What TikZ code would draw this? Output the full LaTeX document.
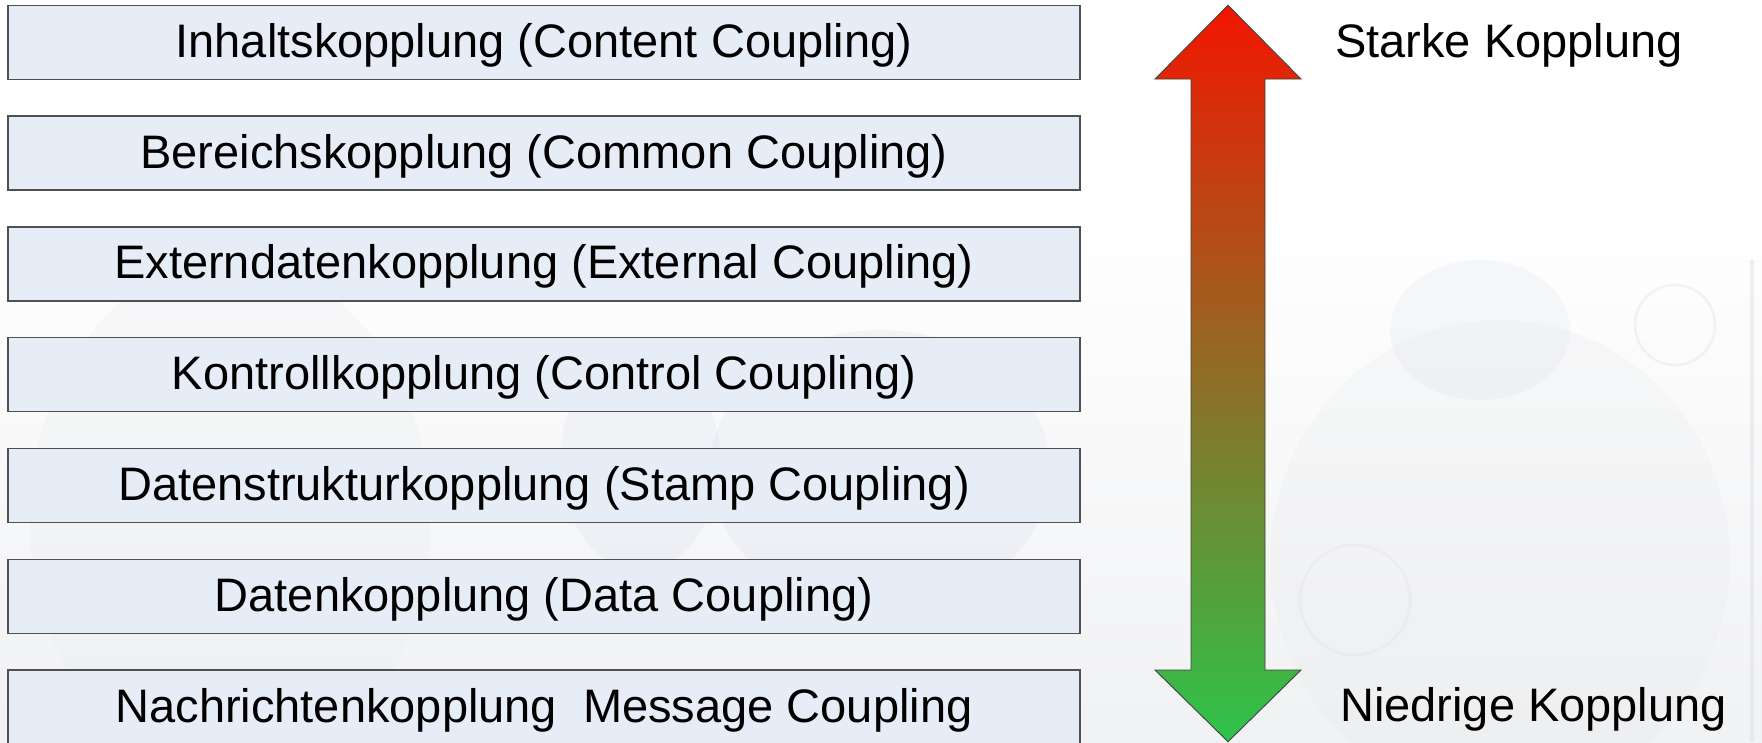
\documentclass[tikz,border=0pt]{standalone}
\usepackage{fontspec}
\setmainfont{Liberation Sans}
\definecolor{boxfill}{RGB}{230,237,247}
\definecolor{boxline}{RGB}{80,80,80}
\definecolor{arrowtop}{RGB}{242,22,0}
\definecolor{arrowbot}{RGB}{45,196,75}
\definecolor{wmgray}{RGB}{226,228,232}
\definecolor{wmblue}{RGB}{214,222,236}
\begin{document}
\begin{tikzpicture}[x=1pt,y=-1pt,
  cbox/.style={draw=boxline, fill=boxfill, line width=1.3pt, minimum width=1072pt,
    minimum height=74pt, inner sep=0pt, text height=40pt, text depth=10pt,
    font=\fontsize{47}{52}\selectfont},
  sidelabel/.style={anchor=base west, inner sep=0pt, font=\fontsize{47}{52}\selectfont},
  wm/.style={fill=wmgray, opacity=0.18, draw=none}]
\useasboundingbox (0,0) rectangle (1762,742);
\fill[white] (0,0) rectangle (1762,742);
% faint watermark background
\shade[top color=white, bottom color=wmgray!50] (0,200) rectangle (1762,742);
\fill[wm] (1500,560) ellipse (230 and 240);
\fill[wmblue, opacity=0.2] (1480,330) ellipse (90 and 70);
\draw[wmgray, line width=2.5pt, opacity=0.4] (1675,325) circle (40);
\draw[wmgray, line width=2.5pt, opacity=0.4] (1355,600) circle (55);
\fill[wmblue, opacity=0.25] (640,460) ellipse (80 and 110);
\fill[wmblue, opacity=0.25] (880,470) ellipse (170 and 140);
\fill[wm] (230,520) ellipse (200 and 260);
\draw[wmgray, line width=4pt, opacity=0.6] (1752,260) -- (1752,742);
% boxes
\node[cbox] (b1) at (544,42.3) {Inhaltskopplung (Content Coupling)};
\node[cbox] (b2) at (544,153.1) {Bereichskopplung (Common Coupling)};
\node[cbox] (b3) at (544,263.9) {Externdatenkopplung (External Coupling)};
\node[cbox] (b4) at (544,374.7) {Kontrollkopplung (Control Coupling)};
\node[cbox] (b5) at (544,485.5) {Datenstrukturkopplung (Stamp Coupling)};
\node[cbox] (b6) at (544,596.3) {Datenkopplung (Data Coupling)};
\node[cbox] (b7) at (544,707.1) {Nachrichtenkopplung\ \ Message Coupling};
% double-headed gradient arrow
\shadedraw[top color=arrowtop, bottom color=arrowbot, draw=black!75, line width=0.9pt]
  (1228,5.3) -- (1301,79) -- (1265,79) -- (1265,670) -- (1301,670) -- (1228,741.7)
  -- (1155,670) -- (1191,670) -- (1191,79) -- (1155,79) -- cycle;
% labels
\node[sidelabel] (strong) at (1335,57) {Starke Kopplung};
\node[sidelabel] (weak) at (1340,721) {Niedrige Kopplung};
\end{tikzpicture}
\end{document}
